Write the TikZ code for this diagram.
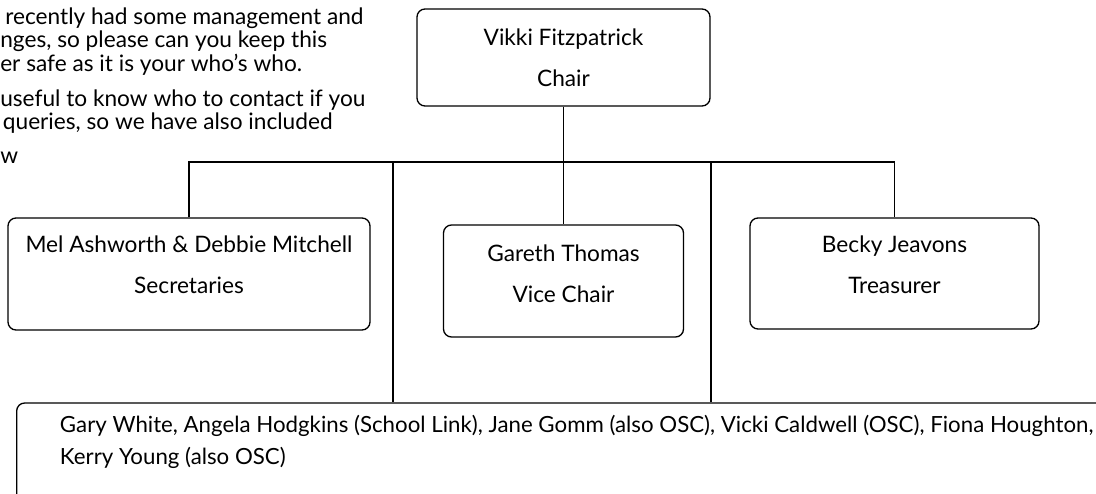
\documentclass[tikz,border=0pt]{standalone}
\usepackage{fontspec}
\setmainfont{Lato}
\usepackage{tikz}

\begin{document}
\begin{tikzpicture}[x=0.75pt,y=-0.75pt] \tikzset{% styles for the boxes and the lines
        box/.style={draw, rounded corners=6pt, line width=1pt, inner sep=0pt, anchor=base,
        font=\fontsize{17}{20.4}\selectfont}, c1/.style={line width=1pt},
        note/.style={inner sep=0pt, anchor=north west, align=left, font=\fontsize{17}{17.5}\selectfont},
        }
        \useasboundingbox (0,0) rectangle (1096,493); \clip (0,0) rectangle (1096,493);
        % Nodes
        \node[note] (note) at (0,7.6) {\hspace*{3.75pt}recently had some management and\\ nges, so please can you keep this\\
        er safe as it is your who’s who.\\[9pt] useful to know who to contact if you\\ \hspace*{2pt}queries, so we have also included\\[8pt] w};
        \node[box, minimum width=219.75pt, text height=27pt, text depth=45.75pt] (chair) at (563.5,45)
        {\begin{tabular}[t]{c}Vikki Fitzpatrick\\[11pt]Chair\end{tabular}};
        \node[box, minimum width=271.5pt, text height=25.5pt, text depth=58.5pt] (sec) at (189,252)
        {\begin{tabular}[t]{c}Mel Ashworth \& Debbie Mitchell\\[10.5pt]Secretaries\end{tabular}};
        \node[box, minimum width=180pt, text height=27pt, text depth=57pt] (vice) at (563.5,261)
        {\begin{tabular}[t]{c}Gareth Thomas\\[10.5pt]Vice Chair\end{tabular}};
        \node[box, minimum width=216.75pt, text height=25.5pt, text depth=57.75pt] (treas) at (894.5,252)
        {\begin{tabular}[t]{c}Becky Jeavons\\[11pt]Treasurer\end{tabular}};
        \node[box, anchor=base west, font=\fontsize{16.7}{20}\selectfont, inner xsep=9.5pt, minimum width=840pt,
        text height=21.75pt, text depth=75pt] (comm) at (16,432)
        {\begin{tabular}[t]{@{}l@{}}Gary White, Angela Hodgkins (School Link), Jane Gomm (also OSC), Vicki Caldwell (OSC), Fiona Houghton,\\[4pt]Kerry Young (also OSC)\end{tabular}};
        \coordinate (j1) at (393,162); \coordinate (j2) at (711,162);
        % Edges
        \draw[c1] (chair.south) -- (vice.north);
        \draw[c1] (sec.north) -- (sec.north |- j1) -- (treas.north |- j1) -- (treas.north);
        \draw[c1] (j1) -- (j1 |- comm.north); \draw[c1] (j2) -- (j2 |- comm.north);
\end{tikzpicture}
\end{document}
